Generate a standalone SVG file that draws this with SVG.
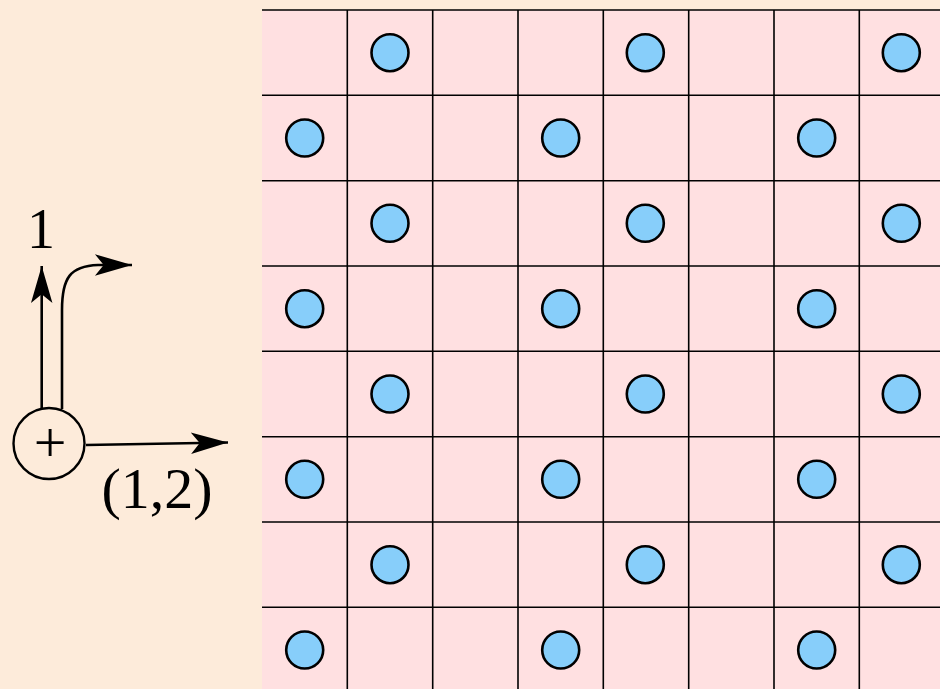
<svg xmlns="http://www.w3.org/2000/svg" width="940" height="689" viewBox="0 0 940 689">
<defs>
<style>
.bg{fill:#fdebda}
.cell{fill:#ffe0e1}
.gl{stroke:#000;stroke-width:1.6;fill:none}
.dot{fill:#87cefa;stroke:#000;stroke-width:2.6}
.ln{stroke:#000;stroke-width:2.6;fill:none}
.lbl{font-family:"Liberation Serif","Times New Roman",serif;fill:#000}
</style>
<marker id="ah" markerUnits="userSpaceOnUse" markerWidth="40" markerHeight="26" viewBox="-39 -13 41 26" refX="0" refY="0" orient="auto">
<path d="M0 0 L-38 -11 L-29 0 L-38 11 Z" fill="#000"/>
</marker>
</defs>
<rect class="bg" x="0" y="0" width="940" height="689"/>
<g id="lattice">
<rect class="cell" x="262" y="10" width="678" height="679"/>
<g class="gl">
<path d="M262 10H940M262 95.3H940M262 180.7H940M262 266H940M262 351.3H940M262 436.7H940M262 522H940M262 607.3H940"/>
<path d="M347.3 10V689M432.7 10V689M518 10V689M603.3 10V689M688.7 10V689M774 10V689M859.3 10V689"/>
</g>
</g>
<g id="sites">
<g class="dot">
<circle cx="390" cy="52.7" r="18.5"/><circle cx="645.3" cy="52.7" r="18.5"/><circle cx="901.3" cy="52.7" r="18.5"/>
<circle cx="304.7" cy="138" r="18.5"/><circle cx="560.7" cy="138" r="18.5"/><circle cx="816.7" cy="138" r="18.5"/>
<circle cx="390" cy="223.3" r="18.5"/><circle cx="645.3" cy="223.3" r="18.5"/><circle cx="901.3" cy="223.3" r="18.5"/>
<circle cx="304.7" cy="308.7" r="18.5"/><circle cx="560.7" cy="308.7" r="18.5"/><circle cx="816.7" cy="308.7" r="18.5"/>
<circle cx="390" cy="394" r="18.5"/><circle cx="645.3" cy="394" r="18.5"/><circle cx="901.3" cy="394" r="18.5"/>
<circle cx="304.7" cy="479.3" r="18.5"/><circle cx="560.7" cy="479.3" r="18.5"/><circle cx="816.7" cy="479.3" r="18.5"/>
<circle cx="390" cy="564.7" r="18.5"/><circle cx="645.3" cy="564.7" r="18.5"/><circle cx="901.3" cy="564.7" r="18.5"/>
<circle cx="304.7" cy="650" r="18.5"/><circle cx="560.7" cy="650" r="18.5"/><circle cx="816.7" cy="650" r="18.5"/>
</g>
</g>
<g id="connectors">
<path class="ln" d="M41.7 408 L41.7 266" marker-end="url(#ah)"/>
<path class="ln" d="M62 409 L62 310 C62 278 70 266 98 265 L132 265" marker-end="url(#ah)"/>
<path class="ln" d="M86 445 L228 442.5" marker-end="url(#ah)"/>
</g>
<g id="charge">
<circle cx="49" cy="443.5" r="35.5" fill="none" stroke="#000" stroke-width="2.4"/>
<text class="lbl" x="50" y="462" font-size="58" text-anchor="middle">+</text>
</g>
<g id="labels">
<text class="lbl" x="41" y="248" font-size="56" text-anchor="middle">1</text>
<text class="lbl" x="157" y="508" font-size="58" text-anchor="middle">(1,2)</text>
</g>
</svg>
